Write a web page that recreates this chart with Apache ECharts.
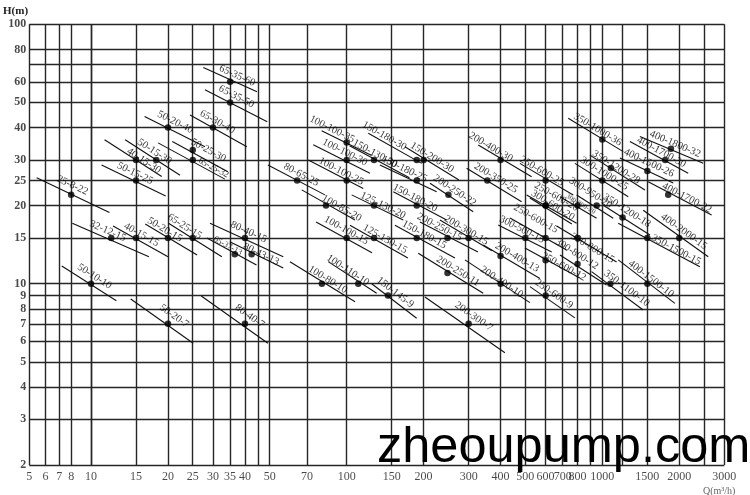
<!DOCTYPE html>
<html>
<head>
<meta charset="utf-8">
<script src="https://cdn.jsdelivr.net/npm/echarts@6/dist/echarts.min.js"></script>
<style>
html,body{margin:0;padding:0;background:#ffffff;}
#chart{width:750px;height:495px;}
</style>
</head>
<body>
<div id="chart"></div>
<script>
// ---------------- data ----------------
const pumpNames = ['25-8-22','50-10-10','65-35-60','65-35-50','50-20-40','65-30-40','50-25-30','65-25-32','40-15-30','50-15-30',
  '50-15-25','32-12-15','40-15-15','50-20-15','65-25-15','80-40-15','65-37-13','80-43-13','50-20-7','80-40-7',
  '80-65-25','100-100-35','150-130-30','100-100-30','100-100-25','150-180-30','150-200-30','150-180-25','200-250-22','125-130-20',
  '150-180-20','100-85-20','200-250-15','200-300-15','100-100-15','125-130-15','150-180-15','200-250-11','100-80-10','100-110-10',
  '150-145-9','200-300-7','200-400-30','200-350-25','250-600-25','250-600-20','300-600-20','300-800-20','300-950-20','250-600-15',
  '300-500-15','300-800-15','200-400-13','250-600-12','300-800-12','200-400-10','250-600-9','350-1000-36','400-1800-32','400-1700-30',
  '400-1500-26','350-1200-28','300-1000-25','400-1700-22','350-1200-18','400-2000-15','350-1500-15','400-1500-10','350-1100-10'];
const pumpQ = [8,10,35,35,20,30,25,25,15,18,
  15,12,15,20,25,40,36.5,42.5,20,40,
  64,100,128,100,100,188,200,188,250,128,
  188,83,248,300,100,128,188,248,80,111,
  145,300,400,355,600,600,600,800,950,600,
  500,800,400,600,800,400,600,1000,1855,1762,
  1500,1080,1000,1810,1200,2000,1500,1500,1075];
const pumpH = [22,10,60,50,40,40,32.8,30,30,30,
  25,15,15,15,15,15,13,13,7,7,
  25,35,30,30,25,30,30,25,22,20,
  20,20,15,15,15,15,15,11,10,10,
  9,7,30,25,25,20,20,20,20,15,
  15,15,12.8,12.3,11.9,10,9,36,33.1,30,
  27.2,27.9,25,22,18,15,15,10,10];
// operating-range segment of every pump: start (Q1,H1) and end (Q2,H2)
const segQ1 = [5.43,7.2,27.5,27.9,16.2,24.4,20.8,18.3,11.3,13.6,
  11.0,8.45,12.2,16.3,20.1,29.2,28.4,34.9,14.3,27.0,
  49.2,79.8,102.6,74.0,70.8,121.5,169,134.9,211.8,104.6,
  152.2,66.7,193.5,231.6,75.9,103,154.5,190.5,60.0,84.7,
  125.3,202.4,327.1,294.6,476,505.8,521,682.9,793.3,435.3,
  391.6,662.8,342.1,498,682.9,290.1,521,735.6,1403,1282,
  1172,894,781,1512,1005,1445,1154,1154,908];
const segH1 = [25.6,11.7,68.2,55.9,44.1,44.7,35.3,34.9,35.9,35.9,
  28.7,17.1,16.7,17.0,17.1,17.1,15.0,14.5,8.73,8.97,
  28.7,38.9,34.0,34.3,30.0,38.0,33.7,28.7,24.4,22.0,
  22.6,23.0,17.3,17.6,17.3,16.8,16.8,13.1,12.16,12.16,
  10.0,8.89,34.25,27.86,29.1,21.98,21.4,21.65,21.98,17.9,
  16.84,16.69,14.1,13.73,12.9,12.35,9.74,43.4,36.9,35.3,
  30.5,31.3,29.1,24.7,20.1,19.2,17.09,12.35,11.13];
const segQ2 = [12.3,13.3,44.6,48.9,27.9,40.7,34.3,33.4,18.9,22.3,
  19.6,16.85,20.0,26.0,32.5,56.5,44.4,56.5,25.1,49.2,
  82.2,125.3,176,123.3,116.1,196.5,275,224.9,312.7,166.5,
  246.1,107.8,326.2,370,125.6,173.6,265.2,342.1,107.8,131.0,
  187.8,416,529,483.4,769.5,793.3,760,950,1103,725,
  633.6,1137,570,817,1039,521,781,1207,2481,2167,
  1894,1468,1263,2676,1536,2596,2408,1923,1445];
const segH2 = [18.8,8.6,55.0,42.1,33.7,33.7,27.0,25.3,25.9,26.2,
  21.8,12.7,12.7,12.9,12.7,12.7,11.8,11.5,5.89,5.89,
  22.0,31.2,25.6,26.65,23.3,29.1,25.1,22.6,18.95,17.6,
  17.6,17.6,13.25,13.4,13.15,12.56,12.56,9.18,8.52,9.18,
  7.36,5.42,25.85,20.7,21.98,17.09,16.99,17.87,17.87,13.49,
  13.25,12.13,10.48,10.52,9.89,8.45,7.38,32.3,29.1,26.65,
  24.45,22.97,21.65,18.4,15.4,12.7,11.63,8.4,7.92];

const xGridLeft = [5, 6, 7, 8, 10];
const xGridRight = [10, 15, 20, 25, 30, 35, 40, 45, 50, 70, 100, 150, 200, 300, 400, 500, 600, 700, 800, 900, 1000, 1200, 1500, 2000, 2500, 3000];
const yGrid = [2, 3, 4, 5, 6, 7, 8, 9, 10, 15, 20, 25, 30, 40, 50, 60, 70, 80, 100];
const xTickLabels = [5, 6, 7, 8, 10, 15, 20, 25, 30, 35, 40, 50, 70, 100, 150, 200, 300, 400, 500, 600, 700, 800, 1000, 1500, 2000, 3000];
const yTickLabels = [100, 80, 60, 50, 40, 30, 25, 20, 15, 10, 9, 8, 7, 6, 5, 4, 3, 2];

// ---------------- layout tweaks (label placement along / above the segment, px) ----------------
const labelShift = {
 '25-8-22':[-3,9],'50-10-10':[-1,8],'65-35-60':[4,8.5],'65-35-50':[3,8],'50-20-40':[4,8],'65-30-40':[1,7],
 '50-25-30':[14,7],'65-25-32':[22,3],'40-15-30':[7,3.5],'50-15-30':[-6,6],'50-15-25':[-4,6],'32-12-15':[-6,5],
 '40-15-15':[3,5.5],'50-20-15':[-7,5.5],'65-25-15':[-13,5.5],'80-40-15':[1,7],'65-37-13':[-10,4],'80-43-13':[8.5,4],
 '50-20-7':[0.5,10],'80-40-7':[-0.5,9],'80-65-25':[1,7],'100-100-35':[-19,5.5],'150-130-30':[-2,6],'100-100-30':[-5,6],
 '100-100-25':[-9,5.5],'150-180-30':[-40,5],'150-200-30':[6,6.5],'150-180-25':[-16,5],'200-250-22':[3,7],'125-130-20':[8,4],
 '150-180-20':[-5,6],'100-85-20':[15,5.5],'200-250-15':[-12,6],'200-300-15':[-6,5.5],'100-100-15':[-4,6.5],'125-130-15':[10,4.5],
 '150-180-15':[5,6.5],'200-250-11':[8,7],'100-80-10':[3,6.5],'100-110-10':[-16,5.5],'150-145-9':[4,7],'200-300-7':[0,9],
 '200-400-30':[-15,6],'200-350-25':[6,6.5],'250-600-25':[-8,6],'250-600-20':[5,13],'300-600-20':[6,4],'300-800-20':[2,3],
 '300-950-20':[-12,7.5],'250-600-15':[-18,12],'300-500-15':[-7,6],'300-800-15':[18,-1],'200-400-13':[15,7],'250-600-12':[19,3],
 '300-800-12':[-6,8],'200-400-10':[0,2],'250-600-9':[6,6],'350-1000-36':[-9,6],'400-1800-32':[2,6],'400-1700-30':[-7,5],
 '400-1500-26':[-2,8],'350-1200-28':[4,3.5],'300-1000-25':[-2,7],'400-1700-22':[18,6],'350-1200-18':[0,8],'400-2000-15':[0,8],
 '350-1500-15':[31,3],'400-1500-10':[0,6],'350-1100-10':[16,6]
};
const labelSize = {'65-25-32': 9, '65-37-13': 8.5, '300-800-20': 7};

const Q_SPLIT = 10, Q_MIN = 5, Q_MAX = 3000, H_MIN = 2, H_MAX = 100;
const SERIF = '"Liberation Serif", "DejaVu Serif", serif';

const chart = echarts.init(document.getElementById('chart'), null, {renderer: 'canvas'});
const leftIdx = [], rightIdx = [];
pumpQ.forEach((q, i) => (q <= Q_SPLIT ? leftIdx : rightIdx).push(i));
let angles = [];

function gridLines(xs, qLo, qHi) {
  const d = [];
  xs.forEach(v => d.push({coords: [[v, H_MIN], [v, H_MAX]]}));
  yGrid.forEach(h => d.push({coords: [[qLo, h], [qHi, h]]}));
  return d;
}
function segData(idx) {
  return idx.map(i => ({coords: [[segQ1[i], segH1[i]], [segQ2[i], segH2[i]]]}));
}
function pointData(idx) {
  return idx.map(i => {
    const item = {name: pumpNames[i], value: [pumpQ[i], pumpH[i]]};
    if (labelSize[pumpNames[i]]) item.label = {fontSize: labelSize[pumpNames[i]]};
    return item;
  });
}
function layoutFor(idx) {
  return function (p) {
    const i = idx[p.dataIndex];
    const a = angles[i];
    if (a === undefined) return {};
    const cx = p.rect.x + p.rect.width / 2;
    const cy = p.rect.y + p.rect.height / 2;
    const sh = labelShift[pumpNames[i]] || [-2, 8];
    const ux = Math.cos(a), uy = Math.sin(a);
    const nx = uy, ny = -ux;
    return {
      x: cx + ux * sh[0] + nx * sh[1],
      y: cy + uy * sh[0] + ny * sh[1],
      rotate: -a * 180 / Math.PI,
      align: 'center',
      verticalAlign: 'middle'
    };
  };
}
function tickData(g) {
  const d = [];
  xTickLabels.filter(v => (g === 0 ? v < Q_SPLIT : v >= Q_SPLIT)).forEach(v => {
    d.push({name: String(v), value: [v, H_MIN], label: {position: 'bottom', distance: 6}});
  });
  if (g === 0) {
    yTickLabels.forEach(h => {
      d.push({name: String(h), value: [Q_MIN, h], label: {position: 'left', distance: 3, fontWeight: 'bold'}});
    });
  }
  return d;
}

function buildOption() {
  const series = [];
  [0, 1].forEach(g => {
    const idx = g === 0 ? leftIdx : rightIdx;
    series.push({
      type: 'lines', coordinateSystem: 'cartesian2d', xAxisIndex: g, yAxisIndex: g,
      data: g === 0 ? gridLines(xGridLeft, Q_MIN, Q_SPLIT) : gridLines(xGridRight, Q_SPLIT, Q_MAX),
      lineStyle: {color: '#262626', width: 1.4, opacity: 1}, silent: true, clip: false, z: 1
    });
    series.push({
      type: 'lines', coordinateSystem: 'cartesian2d', xAxisIndex: g, yAxisIndex: g,
      data: segData(idx),
      lineStyle: {color: '#111', width: 1.1, opacity: 1}, silent: true, clip: false, z: 2
    });
    series.push({
      type: 'scatter', xAxisIndex: g, yAxisIndex: g, clip: false, z: 3,
      symbol: 'circle', symbolSize: 6.5, itemStyle: {color: '#000'},
      data: pointData(idx),
      label: {show: true, formatter: '{b}', fontFamily: SERIF, fontSize: 10.5, color: '#000'},
      labelLayout: layoutFor(idx)
    });
    series.push({
      type: 'scatter', xAxisIndex: g, yAxisIndex: g, clip: false, z: 3, silent: true,
      symbolSize: 0, data: tickData(g),
      label: {show: true, formatter: '{b}', fontFamily: SERIF, fontSize: 12, color: '#1a1a1a'}
    });
  });
  return {
    backgroundColor: '#ffffff',
    animation: false,
    grid: [
      {left: 29.3, top: 24.3, width: 61.7, height: 440.7},
      {left: 91, top: 24.3, width: 633.3, height: 440.7}
    ],
    xAxis: [
      {type: 'log', logBase: 10, gridIndex: 0, min: Q_MIN, max: Q_SPLIT, show: false},
      {type: 'log', logBase: 10, gridIndex: 1, min: Q_SPLIT, max: Q_MAX, show: false}
    ],
    yAxis: [
      {type: 'log', logBase: 10, gridIndex: 0, min: H_MIN, max: H_MAX, show: false},
      {type: 'log', logBase: 10, gridIndex: 1, min: H_MIN, max: H_MAX, show: false}
    ],
    graphic: [
      {type: 'text', x: 3, y: 11, style: {text: 'H(m)', font: 'bold 11px ' + SERIF, fill: '#222', verticalAlign: 'middle'}},
      {type: 'text', x: 703, y: 491, style: {text: 'Q(m³/h)', font: '10px ' + SERIF, fill: '#666', verticalAlign: 'middle'}},
      {type: 'text', x: 377, y: 448, z: 100, style: {text: 'zheoupump.com', font: '50.5px "Liberation Sans", Arial, sans-serif', fill: '#000', verticalAlign: 'middle'}}
    ],
    series: series
  };
}

chart.setOption(buildOption(), true);
angles = pumpNames.map((n, i) => {
  const g = pumpQ[i] <= Q_SPLIT ? 0 : 1;
  const a = chart.convertToPixel({gridIndex: g}, [segQ1[i], segH1[i]]);
  const b = chart.convertToPixel({gridIndex: g}, [segQ2[i], segH2[i]]);
  return Math.atan2(b[1] - a[1], b[0] - a[0]);
});
chart.setOption(buildOption(), true);
</script>
</body>
</html>
